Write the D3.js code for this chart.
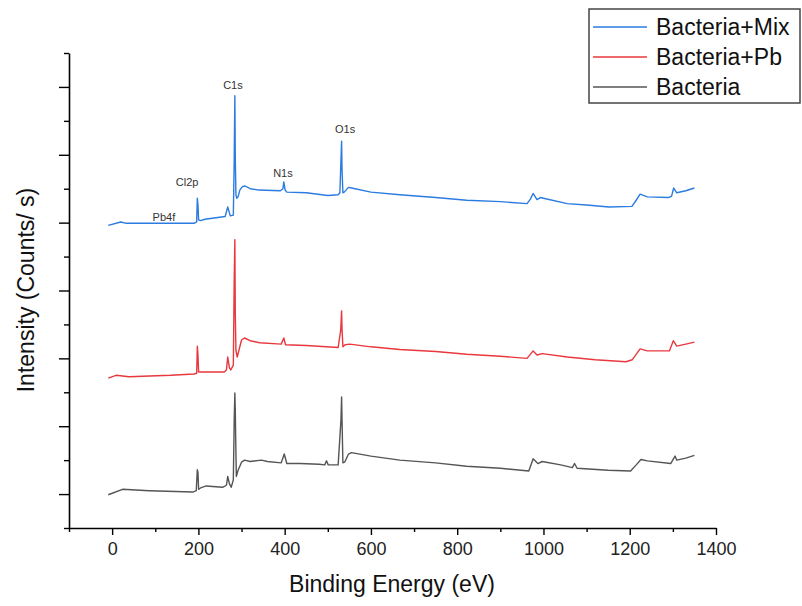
<!doctype html>
<html>
<head>
<meta charset="utf-8"/>
<title>XPS survey</title>
<script src="https://d3js.org/d3.v7.min.js"></script>
<style>
body{margin:0;background:#fff;}
</style>
</head>
<body>
<script type="text/javascript">
// binding energy (eV) / intensity (a.u.)
var mixData = [[-9,4.96],[20,5.01],[33,4.99],[190,4.99],[196,5.01],[197.5,5.36],[199,5.26],[200.5,5.04],[205,5.03],[215,5.05],
  [262,5.09],[268,5.23],[274,5.10],[281,5.11],[283,5.92],[284.5,6.87],[285.5,5.98],[287,5.41],[289,5.36],[292,5.38],
  [296,5.48],[302,5.53],[308,5.54],[320,5.50],[340,5.48],[390,5.47],[396,5.50],[398,5.60],[401,5.48],[405,5.45],
  [450,5.44],[500,5.40],[524,5.41],[528,5.44],[530.5,5.92],[532,6.20],[533,5.78],[535,5.44],[538,5.45],[548,5.52],
  [555,5.51],[600,5.45],[667,5.41],[750,5.37],[822,5.33],[900,5.31],[962,5.28],[970,5.35],[976,5.43],[985,5.34],
  [993,5.37],[1000,5.36],[1055,5.28],[1100,5.26],[1152,5.23],[1205,5.24],[1215,5.33],[1224,5.42],[1241,5.38],[1290,5.37],
  [1297,5.39],[1302,5.51],[1309,5.44],[1330,5.47],[1350,5.51]];
var pbData = [[-9,2.71],[9,2.75],[39,2.73],[136,2.75],[190,2.77],[196,2.78],[197.5,3.18],[199,3.05],[200.5,2.80],[204,2.80],
  [260,2.80],[265,2.83],[268,3.02],[272,2.86],[275,2.83],[281,2.90],[283,4.15],[284.5,4.75],[285.5,3.67],[287,3.12],
  [290,3.02],[294,3.12],[300,3.27],[307,3.30],[320,3.26],[342,3.23],[392,3.21],[398,3.30],[402,3.20],[450,3.19],
  [524,3.16],[530,3.42],[532,3.70],[533,3.42],[535,3.17],[540,3.20],[551,3.21],[600,3.17],[667,3.13],[750,3.10],
  [822,3.06],[900,3.03],[962,3.00],[976,3.11],[985,3.05],[997,3.07],[1055,3.02],[1120,2.98],[1191,2.95],[1206,2.98],
  [1224,3.14],[1241,3.11],[1292,3.11],[1301,3.26],[1309,3.18],[1330,3.21],[1350,3.24]];
var bacData = [[-9,0.99],[24,1.07],[86,1.05],[187,1.03],[195,1.05],[197.5,1.36],[199,1.32],[200.5,1.07],[205,1.09],[218,1.12],
  [256,1.10],[265,1.13],[268,1.26],[272,1.15],[276,1.10],[281,1.21],[283,2.09],[284.5,2.49],[285.5,2.24],[286.5,1.80],
  [288,1.26],[292,1.35],[300,1.47],[307,1.50],[320,1.48],[346,1.50],[360,1.48],[392,1.46],[399,1.59],[405,1.45],
  [435,1.45],[480,1.44],[493,1.43],[497,1.49],[501,1.43],[524,1.43],[530.5,2.09],[532,2.43],[533,2.09],[535,1.46],
  [539,1.47],[548,1.59],[555,1.61],[600,1.56],[667,1.50],[750,1.46],[822,1.41],[900,1.38],[966,1.34],[976,1.52],
  [987,1.45],[997,1.48],[1040,1.43],[1067,1.39],[1072,1.45],[1078,1.38],[1150,1.35],[1202,1.34],[1215,1.43],[1226,1.51],
  [1241,1.49],[1295,1.45],[1305,1.56],[1309,1.50],[1330,1.53],[1350,1.57]];

var seriesNames = ["Bacteria+Mix","Bacteria+Pb","Bacteria"];
var seriesColors = ["#2b7be0","#e8383d","#555555"];
var seriesData = [mixData, pbData, bacData];

var peakNames = ["Pb4f","Cl2p","C1s","N1s","O1s"];
var peakX = [120,174,280,396,540];
var peakY = [5.08,5.60,7.03,5.73,6.38];

var xTicks = d3.range(-100,1401,100);
var yTicks = d3.range(0.5,7.51,0.5);

var svg = d3.select("body").append("svg")
  .attr("width",802).attr("height",606)
  .style("font-family","Arial, 'Liberation Sans', sans-serif");

var x = d3.scaleLinear().domain([-100,1400]).range([69,716]);
var y = d3.scaleLinear().domain([0.5,7.5]).range([528,53]);

// x axis
var xAxis = d3.axisBottom(x).tickValues(xTicks)
  .tickSize(0).tickFormat(function(d){ return (d>=0 && d%200==0) ? d : ""; });
var gx = svg.append("g").attr("transform","translate(0,528)").call(xAxis);
gx.select(".domain").attr("stroke","#000").attr("stroke-width",1.6);
gx.selectAll(".tick line").attr("y2",function(d){ return d%200==0 ? 7 : 4; })
  .attr("stroke","#000").attr("stroke-width",1.4);
gx.selectAll(".tick text").attr("y",14)
  .style("font-family","'Liberation Sans Narrow','Arial Narrow',Arial,sans-serif")
  .style("font-size","18px").attr("fill","#222");

// y axis (no labels)
var yAxis = d3.axisLeft(y).tickValues(yTicks).tickSize(0).tickFormat("");
var gy = svg.append("g").attr("transform","translate(69,0)").call(yAxis);
gy.select(".domain").attr("stroke","#000").attr("stroke-width",1.6);
gy.selectAll(".tick line").attr("x2",function(d){ return d%1==0 ? -10 : -5; })
  .attr("stroke","#000").attr("stroke-width",1.4);

// axis titles
svg.append("text").attr("x",392).attr("y",592).attr("text-anchor","middle")
  .style("font-size","23px").attr("fill","#111").text("Binding Energy (eV)");
svg.append("text").attr("transform","translate(34,290) rotate(-90)").attr("text-anchor","middle")
  .style("font-size","23px").attr("fill","#111").text("Intensity (Counts/ s)");

// spectra
var line = d3.line().x(function(d){ return x(d[0]); }).y(function(d){ return y(d[1]); });
seriesData.forEach(function(s,i){
  svg.append("path").datum(s).attr("d",line)
    .attr("fill","none").attr("stroke",seriesColors[i]).attr("stroke-width",1.4)
    .attr("stroke-linejoin","round");
});

// peak labels
peakNames.forEach(function(p,i){
  svg.append("text").attr("x",x(peakX[i])).attr("y",y(peakY[i])+4)
    .attr("text-anchor","middle").style("font-size","11px").attr("fill","#333").text(p);
});

// legend
var lg = svg.append("g");
lg.append("rect").attr("x",589).attr("y",9).attr("width",211).attr("height",94)
  .attr("fill","#fff").attr("stroke","#444").attr("stroke-width",1.5);
seriesNames.forEach(function(n,i){
  var ly = 27 + i*30;
  lg.append("line").attr("x1",593).attr("x2",647).attr("y1",ly).attr("y2",ly)
    .attr("stroke",seriesColors[i]).attr("stroke-width",1.4);
  lg.append("text").attr("x",656).attr("y",ly+8).style("font-size","23px").attr("fill","#111").text(n);
});
</script>
</body>
</html>
